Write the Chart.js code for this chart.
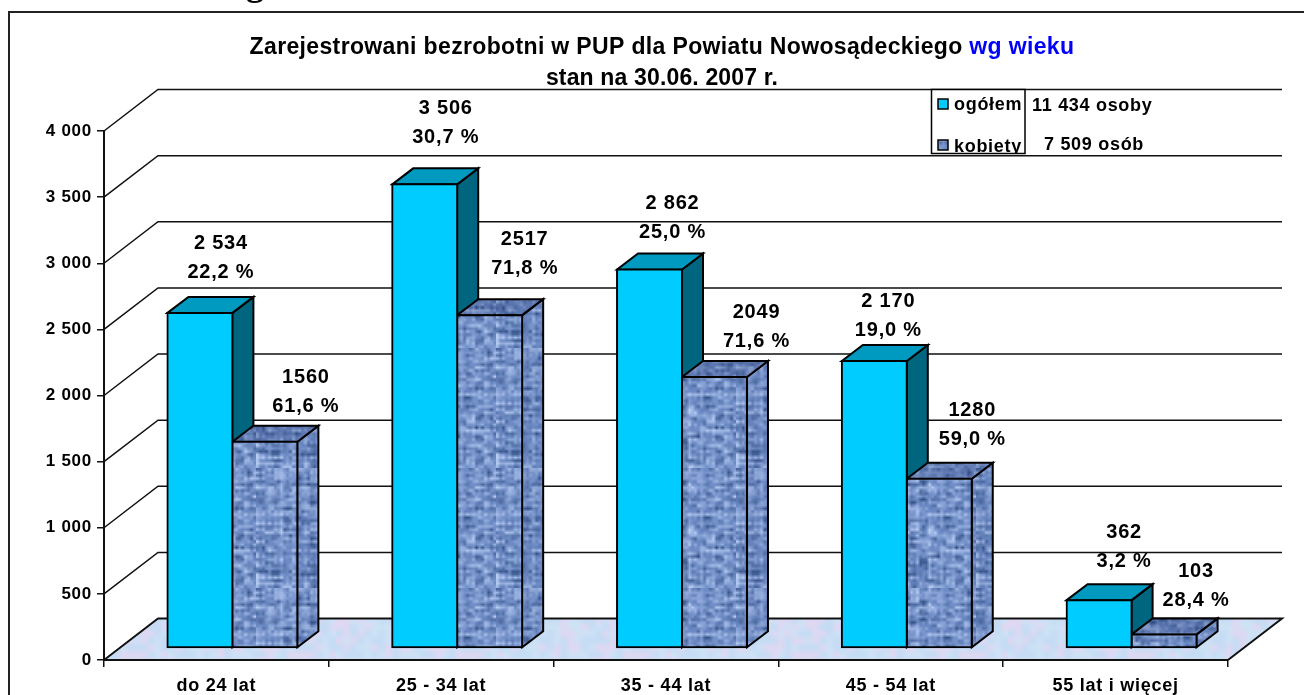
<html>
<head>
    <meta charset="utf-8">
    <title>Zarejestrowani bezrobotni wg wieku</title>
    <style>
        body { margin: 0; background: #fff; overflow: hidden; }
        canvas { display: block; }
    </style>
</head>
<body>
    <canvas id="myChart" width="1304" height="695"></canvas>
</body>
<script src="https://cdn.jsdelivr.net/npm/chart.js"></script>
<script>
    // data
    const categories = ['do 24 lat', '25 - 34 lat', '35 - 44 lat', '45 - 54 lat', '55 lat i więcej']
    const ogolem = [2534, 3506, 2862, 2170, 362]
    const kobiety = [1560, 2517, 2049, 1280, 103]
    const ogolemText = ['2 534', '3 506', '2 862', '2 170', '362']
    const kobietyText = ['1560', '2517', '2049', '1280', '103']
    const ogolemPct = ['22,2 %', '30,7 %', '25,0 %', '19,0 %', '3,2 %']
    const kobietyPct = ['61,6 %', '71,8 %', '71,6 %', '59,0 %', '28,4 %']
    const yTickLabels = ['0', '500', '1 000', '1 500', '2 000', '2 500', '3 000', '3 500', '4 000']
    const seriesNames = ['ogółem', 'kobiety']
    const totals = ['11 434 osoby', '7 509 osób']
    const titleBlack = 'Zarejestrowani bezrobotni w PUP dla Powiatu Nowosądeckiego '
    const titleBlue = 'wg wieku'
    const subtitle = 'stan na 30.06. 2007 r.'

    // fake 3d geometry
    const WALL_DX = 54, WALL_DY = 41.5      // front plane -> back wall
    const BAR_SHIFT_X = 16, BAR_SHIFT_Y = 12 // front plane -> bar front faces
    const BAR_DX = 21, BAR_DY = 16          // depth of one bar

    // hand placed labels in the original: [dx from bar centre, dy from bar top]
    const ogolemNudge = [[21, -69], [21, -76], [23, -66], [14, -60], [25, -68]]
    const kobietyNudge = [[41, -64], [35, -76], [42, -65], [33, -68], [32, -63]]

    const noise = (a, b) => {
        const s = Math.sin(a * 127.1 + b * 311.7) * 43758.5453
        return s - Math.floor(s)
    }

    // blurry cloth texture for "kobiety"
    const makeTile = (n, scale, colorAt) => {
        const small = document.createElement('canvas')
        small.width = small.height = n
        const sc = small.getContext('2d')
        for (let x = 0; x < n; x++) {
            for (let y = 0; y < n; y++) {
                sc.fillStyle = colorAt(x, y)
                sc.fillRect(x, y, 1, 1)
            }
        }
        const big = document.createElement('canvas')
        big.width = big.height = n * scale
        const bc = big.getContext('2d')
        bc.imageSmoothingEnabled = true
        bc.drawImage(small, 0, 0, n * scale, n * scale)
        return big
    }

    const mainCtx = document.getElementById('myChart').getContext('2d')

    const clothTile = makeTile(40, 3, (x, y) => {
        let v = 0.35 * noise(x, y) + 0.5 * noise(Math.floor(x / 3), y) + 0.15 * noise(x, Math.floor(y / 2))
        if (x % 4 === 0) v += 0.14
        if (y % 3 === 0) v += 0.1
        v = Math.min(1, v)
        const r = v < 0.45 ? 35 + v * 170 : 100 + (v - 0.45) * 150
        const g = v < 0.45 ? 65 + v * 170 : 130 + (v - 0.45) * 135
        const b = v < 0.45 ? 120 + v * 165 : 192 + (v - 0.45) * 90
        return `rgb(${r | 0},${g | 0},${b | 0})`
    })
    const cloth = mainCtx.createPattern(clothTile, 'repeat')

    const floorTile = makeTile(24, 7, (x, y) => {
        const v = noise(x, y)
        if (v < 0.33) return 'rgb(206,226,246)'
        if (v < 0.66) return 'rgb(222,216,242)'
        return 'rgb(196,220,244)'
    })
    const floorFill = mainCtx.createPattern(floorTile, 'repeat')

    const poly = (ctx, pts, fill, stroke, width) => {
        ctx.beginPath()
        pts.forEach((p, i) => i ? ctx.lineTo(p[0], p[1]) : ctx.moveTo(p[0], p[1]))
        ctx.closePath()
        if (fill) {
            ctx.fillStyle = fill
            ctx.fill()
        }
        if (stroke) {
            ctx.strokeStyle = stroke
            ctx.lineWidth = width
            ctx.lineJoin = 'miter'
            ctx.stroke()
        }
    }

    // floor and the lines on the back wall, under everything else
    const wallPlugin = {
        id: 'wall',
        beforeDraw(chart) {
            const { ctx, chartArea: a, scales: { y } } = chart
            const y0 = y.getPixelForValue(0)
            ctx.save()
            poly(ctx, [[a.left, y0], [a.left + WALL_DX, y0 - WALL_DY], [a.right + WALL_DX, y0 - WALL_DY], [a.right, y0]], floorFill)
            ctx.strokeStyle = '#111'
            y.ticks.forEach(t => {
                const py = y.getPixelForValue(t.value)
                ctx.lineWidth = t.value === 0 ? 2 : 1.5
                ctx.beginPath()
                ctx.moveTo(a.left, py)
                ctx.lineTo(a.left + WALL_DX, py - WALL_DY)
                ctx.lineTo(a.right + WALL_DX, py - WALL_DY)
                if (t.value === 0) ctx.lineTo(a.right, py)
                ctx.stroke()
            })
            ctx.restore()
            // tick labels in the original are a bit stretched
            ctx.letterSpacing = '0.75px'
        }
    }

    // top and side of every bar, front face is the normal chart.js bar
    const boxPlugin = {
        id: 'box',
        beforeDatasetsDraw(chart) {
            const ctx = chart.ctx
            ctx.save()
            ctx.letterSpacing = '0px'
            ctx.translate(BAR_SHIFT_X, -BAR_SHIFT_Y)
            chart.data.datasets.forEach((ds, index) => {
                chart.getDatasetMeta(index).data.forEach(el => {
                    const { x, y, base, width } = el.getProps(['x', 'y', 'base', 'width'], true)
                    const l = x - width / 2, r = x + width / 2
                    const top = [[l, y], [l + BAR_DX, y - BAR_DY], [r + BAR_DX, y - BAR_DY], [r, y]]
                    const side = [[r, y], [r + BAR_DX, y - BAR_DY], [r + BAR_DX, base - BAR_DY], [r, base]]
                    poly(ctx, side, ds.sideColor)
                    if (ds.sideShade) poly(ctx, side, ds.sideShade)
                    poly(ctx, side, null, '#000', 2)
                    poly(ctx, top, ds.topColor)
                    if (ds.topShade) poly(ctx, top, ds.topShade)
                    poly(ctx, top, null, '#000', 2)
                })
            })
            ctx.restore()
        },
        beforeDatasetDraw(chart) {
            chart.ctx.save()
            chart.ctx.translate(BAR_SHIFT_X, -BAR_SHIFT_Y)
        },
        afterDatasetDraw(chart) {
            chart.ctx.restore()
        }
    }

    const drawLabels = (chart, index, first, second, nudge) => {
        const ctx = chart.ctx
        chart.getDatasetMeta(index).data.forEach((el, i) => {
            const cx = el.x + BAR_SHIFT_X + nudge[i][0]
            const top = el.y - BAR_SHIFT_Y
            ctx.fillText(first[i], cx, top + nudge[i][1])
            ctx.fillText(second[i], cx, top + nudge[i][1] + 29)
        })
    }

    const overlayPlugin = {
        id: 'overlay',
        afterDraw(chart) {
            const ctx = chart.ctx
            ctx.save()

            // page frame and the tail of the heading cut off above it
            ctx.letterSpacing = '0px'
            ctx.fillStyle = '#000'
            ctx.font = 'bold 36px "Liberation Serif"'
            ctx.textAlign = 'center'
            ctx.textBaseline = 'alphabetic'
            ctx.fillText('g', 255, -5)
            ctx.strokeStyle = '#222'
            ctx.lineWidth = 2
            ctx.beginPath()
            ctx.moveTo(9, 695)
            ctx.lineTo(9, 12)
            ctx.lineTo(1304, 12)
            ctx.stroke()

            // title, two colours on one line
            ctx.font = 'bold 23px "Liberation Sans"'
            ctx.letterSpacing = '0.35px'
            ctx.textAlign = 'left'
            const w1 = ctx.measureText(titleBlack).width
            const w2 = ctx.measureText(titleBlue).width
            const tx = 662 - (w1 + w2) / 2
            ctx.fillText(titleBlack, tx, 54)
            ctx.fillStyle = '#0000ff'
            ctx.fillText(titleBlue, tx + w1, 54)
            ctx.fillStyle = '#000'
            ctx.textAlign = 'center'
            ctx.letterSpacing = '0.15px'
            ctx.fillText(subtitle, 662, 85)

            // values over the bars
            ctx.font = 'bold 20px "Liberation Sans"'
            ctx.letterSpacing = '0.8px'
            ctx.textBaseline = 'middle'
            drawLabels(chart, 0, ogolemText, ogolemPct, ogolemNudge)
            drawLabels(chart, 1, kobietyText, kobietyPct, kobietyNudge)

            // legend box, bottom row is cut by the box in the original too
            ctx.letterSpacing = '0.7px'
            ctx.font = 'bold 18px "Liberation Sans"'
            ctx.textAlign = 'left'
            ctx.textBaseline = 'alphabetic'
            ctx.fillStyle = '#fff'
            ctx.fillRect(931.5, 89.5, 93.5, 64)
            poly(ctx, [[931.5, 89.5], [1025, 89.5], [1025, 153.5], [931.5, 153.5]], null, '#000', 1.5)
            poly(ctx, [[938, 99], [948, 99], [948, 109], [938, 109]], '#00ccff', '#000', 1.5)
            poly(ctx, [[938, 140], [948, 140], [948, 150], [938, 150]], cloth, '#000', 1.5)
            ctx.save()
            ctx.beginPath()
            ctx.rect(931.5, 89.5, 93.5, 63.5)
            ctx.clip()
            ctx.fillStyle = '#000'
            ctx.fillText(seriesNames[0], 954, 110)
            ctx.fillText(seriesNames[1], 954, 152)
            ctx.restore()
            ctx.fillStyle = '#000'
            ctx.fillText(totals[0], 1032, 111)
            ctx.fillText(totals[1], 1044, 150)
            ctx.restore()
        }
    }

    new Chart(mainCtx, {
        type: 'bar',
        data: {
            labels: categories,
            datasets: [{
                label: seriesNames[0],
                data: ogolem,
                backgroundColor: '#00ccff',
                topColor: '#0099bf',
                sideColor: '#006680',
                borderColor: '#000',
                borderWidth: 2,
                borderSkipped: false,
                inflateAmount: 1,
                clip: false
            }, {
                label: seriesNames[1],
                data: kobiety,
                backgroundColor: cloth,
                topColor: cloth,
                topShade: 'rgba(30,50,110,0.25)',
                sideColor: cloth,
                sideShade: 'rgba(30,50,110,0.08)',
                borderColor: '#000',
                borderWidth: 2,
                borderSkipped: false,
                inflateAmount: 1,
                clip: false
            }]
        },
        options: {
            responsive: false,
            animation: false,
            events: [],
            layout: { padding: { top: 131, right: 76, left: 0, bottom: 0 } },
            barPercentage: 1,
            categoryPercentage: 0.578,
            plugins: {
                legend: { display: false },
                title: { display: false },
                tooltip: { enabled: false }
            },
            scales: {
                x: {
                    afterFit(scale) { scale.height = 35 },
                    grid: { offset: true, drawOnChartArea: false, tickLength: 7, color: '#111', lineWidth: 1.5 },
                    border: { color: '#111', width: 2 },
                    ticks: {
                        color: '#000',
                        padding: 8,
                        maxRotation: 0,
                        autoSkip: false,
                        font: { family: '"Liberation Sans"', size: 18, weight: 'bold' }
                    }
                },
                y: {
                    min: 0,
                    max: 4000,
                    afterFit(scale) { scale.width = 104 },
                    grid: { drawOnChartArea: false, tickLength: 7, color: '#111', lineWidth: 1.5 },
                    border: { color: '#111', width: 2 },
                    ticks: {
                        stepSize: 500,
                        color: '#000',
                        padding: 5,
                        font: { family: '"Liberation Sans"', size: 17, weight: 'bold' },
                        callback: (v, i) => yTickLabels[i]
                    }
                }
            }
        },
        plugins: [wallPlugin, boxPlugin, overlayPlugin]
    })
</script>
</html>
